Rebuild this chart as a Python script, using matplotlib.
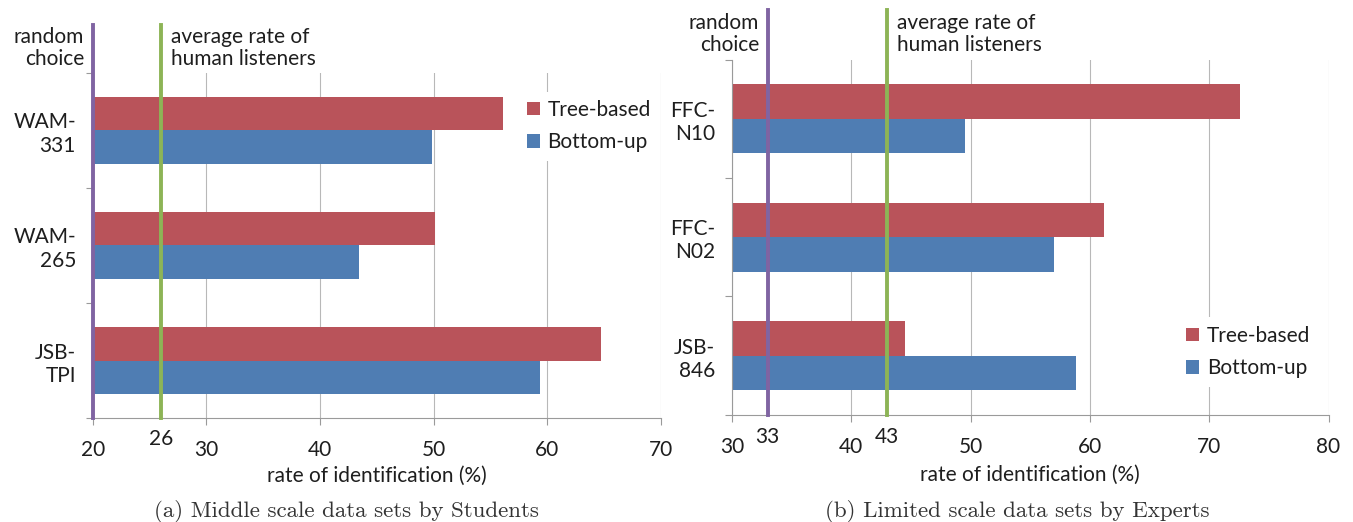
import matplotlib
matplotlib.use("Agg")
import matplotlib.pyplot as plt
import numpy as np

plt.rcParams['font.family'] = ['Lato', 'DejaVu Sans']

# (a) middle scale data sets, rated by students
cats_a = ['WAM-\n331', 'WAM-\n265', 'JSB-\nTPI']
tree_a = [56.1, 50.1, 64.7]
bottom_a = [49.9, 43.4, 59.4]
random_a = 20
human_a = 26
xticks_a = [20, 30, 40, 50, 60, 70]

# (b) limited scale data sets, rated by experts
cats_b = ['FFC-\nN10', 'FFC-\nN02', 'JSB-\n846']
tree_b = [72.6, 61.2, 44.5]
bottom_b = [49.5, 57.0, 58.8]
random_b = 33
human_b = 43
xticks_b = [30, 40, 50, 60, 70, 80]

RED = '#B9535A'
BLUE = '#4F7DB3'
PURPLE = '#8064A2'
GREEN = '#8DB456'
GRID = '#B8B8B8'
AXIS = '#9A9A9A'
TXT = '#1E1E1E'
FS = 15

fig = plt.figure(figsize=(13.53, 5.22), dpi=100)
ax_a = fig.add_axes([0.0685, 0.1992, 0.4200, 0.6610])
ax_b = fig.add_axes([0.5409, 0.2050, 0.4410, 0.6810])


def panel(ax, cats, tree, bottom, rnd, human, xticks, legend_anchor):
    y = np.arange(len(cats))
    h = 0.29
    ax.barh(y - h / 2, tree, height=h, left=0, color=RED, label='Tree-based', zorder=2)
    ax.barh(y + h / 2, bottom, height=h, left=0, color=BLUE, label='Bottom-up', zorder=2)
    ax.set_xlim(xticks[0], xticks[-1])
    ax.set_ylim(len(cats) - 0.5, -0.5)

    ax.set_xticks(xticks)
    ax.set_yticks(y)
    ax.set_yticklabels(cats, ha='right', multialignment='right')
    ax.set_yticks(np.arange(len(cats) + 1) - 0.5, minor=True)
    ax.tick_params(axis='y', which='major', length=0, pad=12, labelsize=FS, labelcolor=TXT)
    ax.tick_params(axis='y', which='minor', length=5, color=AXIS, width=0.8)
    ax.tick_params(axis='x', length=5, color=AXIS, width=0.8, pad=11, labelsize=FS,
                   labelcolor=TXT)
    ax.grid(axis='x', color=GRID, linewidth=0.8, zorder=0)
    ax.set_axisbelow(True)
    for s in ['top', 'right']:
        ax.spines[s].set_visible(False)
    for s in ['left', 'bottom']:
        ax.spines[s].set_color(AXIS)
        ax.spines[s].set_linewidth(0.8)

    # reference lines run above the plot area up to the notes
    for xv, c in [(rnd, PURPLE), (human, GREEN)]:
        ax.axvline(xv, ymin=0, ymax=1.138, color=c, linewidth=2.8, clip_on=False, zorder=3)
    if rnd not in xticks:
        ax.text(rnd, -0.062, str(rnd), transform=ax.get_xaxis_transform(),
                ha='center', va='center', fontsize=FS, color=TXT)
    ax.text(human, -0.062, str(human), transform=ax.get_xaxis_transform(),
            ha='center', va='center', fontsize=FS, color=TXT)

    ax.annotate('random\nchoice', xy=(rnd, 1.072), xycoords=('data', 'axes fraction'),
                xytext=(-6, 0), textcoords='offset points', ha='right', va='center',
                multialignment='right', fontsize=FS, color=TXT, linespacing=1.1)
    ax.annotate('average rate of\nhuman listeners', xy=(human, 1.072),
                xycoords=('data', 'axes fraction'), xytext=(7, 0),
                textcoords='offset points', ha='left', va='center',
                multialignment='left', fontsize=FS, color=TXT, linespacing=1.1)

    ax.text(0.5, -0.168, 'rate of identification (%)', transform=ax.transAxes,
            ha='center', va='center', fontsize=FS, color=TXT)

    leg = ax.legend(loc='center left', bbox_to_anchor=legend_anchor, borderaxespad=0,
                    fontsize=FS, handlelength=0.62, handleheight=0.62, handletextpad=0.35,
                    labelspacing=0.6, borderpad=0.4, frameon=True, fancybox=False)
    leg.get_frame().set_edgecolor('none')
    leg.get_frame().set_facecolor('white')
    leg.get_frame().set_alpha(1)
    for t in leg.get_texts():
        t.set_color(TXT)


panel(ax_a, cats_a, tree_a, bottom_a, random_a, human_a, xticks_a, (0.750, 0.846))
panel(ax_b, cats_b, tree_b, bottom_b, random_b, human_b, xticks_b, (0.748, 0.177))

fig.text(0.2557, 0.021, '(a) Middle scale data sets by Students', ha='center', va='center',
         fontsize=16.5, family='cmr10', color='#333333')
fig.text(0.752, 0.021, '(b) Limited scale data sets by Experts', ha='center', va='center',
         fontsize=16.5, family='cmr10', color='#333333')

fig.savefig('out.png', dpi=100)
